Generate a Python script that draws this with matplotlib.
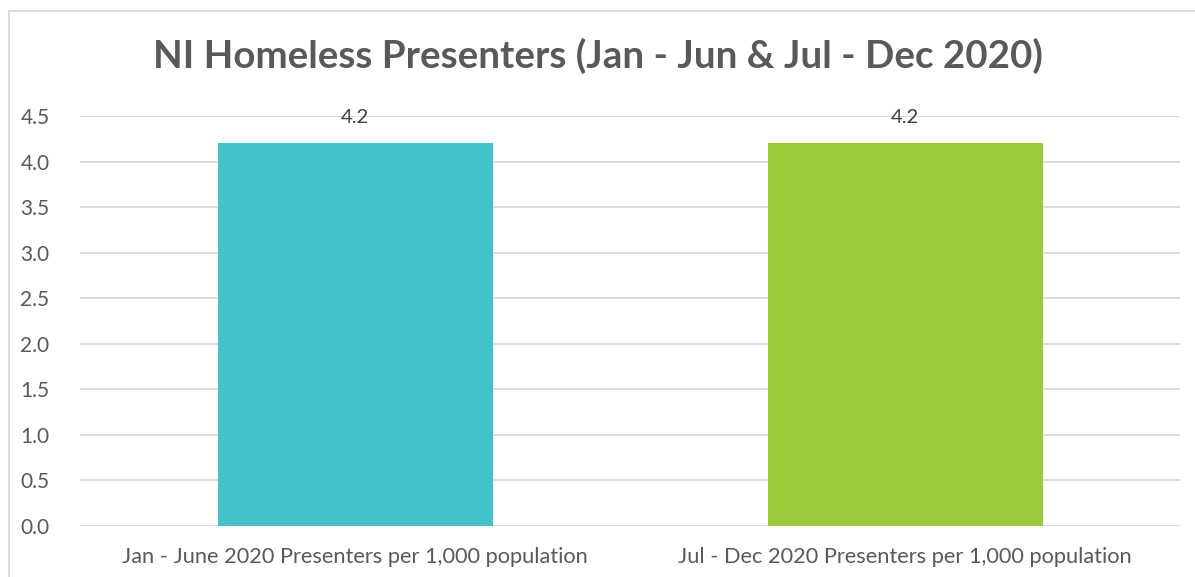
import matplotlib.pyplot as plt
import matplotlib.patheffects as pe
from matplotlib.patches import Rectangle

categories = ['Jan - June 2020 Presenters per 1,000 population',
              'Jul - Dec 2020 Presenters per 1,000 population']
values = [4.2, 4.2]
bar_colors = ['#45C1CC', '#9ACA3C']
yticks = [0.0, 0.5, 1.0, 1.5, 2.0, 2.5, 3.0, 3.5, 4.0, 4.5]

plt.rcParams['font.family'] = ['Lato', 'DejaVu Sans']
grey = '#595959'

fig = plt.figure(figsize=(11.95, 5.77), dpi=100)
ax = fig.add_axes([80/1195, 1-526/577, 1100/1195, 410/577])

x = range(len(categories))
bars = ax.bar(x, values, width=0.5, color=bar_colors, zorder=3)
for b in bars:
    b.set_path_effects([pe.SimplePatchShadow(offset=(0, -1), shadow_rgbFace='#999999', alpha=0.35), pe.Normal()])
for i, v in enumerate(values):
    ax.text(i, v + 0.28, '%.1f' % v, ha='center', va='center', fontsize=14.5, color='#404040')

ax.set_xlim(-0.5, 1.5)
ax.set_ylim(0, 4.5)
ax.set_yticks(yticks)
ax.set_yticklabels(['%.1f' % t for t in yticks])
ax.set_xticks(list(x))
ax.set_xticklabels(categories)
ax.grid(axis='y', color='#D9D9D9', linewidth=1.3, zorder=0)
for s in ax.spines.values():
    s.set_visible(False)
ax.tick_params(axis='x', length=0, labelsize=15.7, colors=grey, pad=15)
ax.tick_params(axis='y', length=0, labelsize=15, colors=grey, pad=22)

fig.text(0.5, 1-56/577, 'NI Homeless Presenters (Jan - Jun & Jul - Dec 2020)',
         ha='center', va='center', fontsize=27.7, fontweight='bold', color=grey)

# outer chart frame
fig.patches.append(Rectangle((9/1195, -0.05), 1.2, 1-11/577+0.05, transform=fig.transFigure,
                             fill=False, edgecolor='#D9D9D9', linewidth=1.3))

plt.savefig('out.png', dpi=100)
